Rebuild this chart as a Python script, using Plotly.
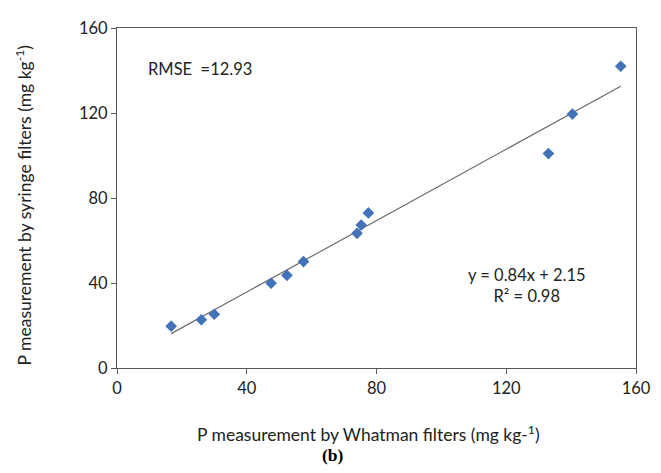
import plotly.graph_objects as go

# Data
whatman = [16.7, 26.0, 30.0, 47.5, 52.4, 57.5, 74.0, 75.3, 77.5, 133.0, 140.4, 155.3]
syringe = [19.7, 22.7, 25.3, 39.9, 43.6, 50.1, 63.4, 67.3, 73.0, 100.9, 119.5, 142.0]
slope = 0.84
intercept = 2.15
tick_vals = [0, 40, 80, 120, 160]
rmse_label = "RMSE  =12.93"
eq_label = "y = 0.84x + 2.15<br>R² = 0.98"

FONT = "Lato"
AXIS_COLOR = "#595959"

x_line = [min(whatman), max(whatman)]
y_line = [slope * v + intercept for v in x_line]

fig = go.Figure()
fig.add_trace(go.Scatter(
    x=x_line, y=y_line, mode="lines",
    line=dict(color="#6b6b6b", width=1.2),
    showlegend=False, hoverinfo="skip"))
fig.add_trace(go.Scatter(
    x=whatman, y=syringe, mode="markers",
    marker=dict(symbol="diamond", size=9, color="#4273B8"),
    showlegend=False))

axis_common = dict(
    range=[0, 160], showgrid=False, zeroline=False,
    showline=True, linecolor=AXIS_COLOR, linewidth=1.2, mirror=True,
    ticks="outside", ticklen=5, tickcolor=AXIS_COLOR, tickwidth=1,
    tickvals=tick_vals, tickfont=dict(family=FONT, size=16.5, color="#222"),
    ticklabeloverflow="allow",
)

fig.update_layout(
    width=661, height=473,
    margin=dict(l=108.5, r=33, t=10, b=113),
    paper_bgcolor="white", plot_bgcolor="white",
    xaxis=dict(axis_common), yaxis=dict(axis_common),
    font=dict(family=FONT, color="#222"),
)

annos = [
    dict(text="P measurement by syringe filters (mg kg<sup>-1</sup>)",
         xref="paper", yref="paper", x=-0.18, y=0.477, textangle=-90,
         xanchor="center", yanchor="middle", showarrow=False,
         font=dict(family=FONT, size=17.5)),
    dict(text="P measurement by Whatman filters (mg kg-<sup>1</sup>)",
         xref="paper", yref="paper", x=0.484, y=-0.194,
         xanchor="center", yanchor="middle", showarrow=False,
         font=dict(family=FONT, size=17.5)),
    dict(text="<b>(b)</b>", xref="paper", yref="paper", x=0.417, y=-0.257,
         xanchor="center", yanchor="middle", showarrow=False,
         font=dict(family="Liberation Serif", size=17.5, color="#000")),
    dict(text=rmse_label, xref="x", yref="y", x=8.8, y=140.8,
         xanchor="left", yanchor="middle", showarrow=False,
         font=dict(family=FONT, size=16.5)),
    dict(text=eq_label, xref="x", yref="y", x=126.4, y=39,
         xanchor="center", yanchor="middle", showarrow=False, align="center",
         font=dict(family=FONT, size=16.5)),
]
fig.update_layout(annotations=annos)

fig.write_html("out.html")
